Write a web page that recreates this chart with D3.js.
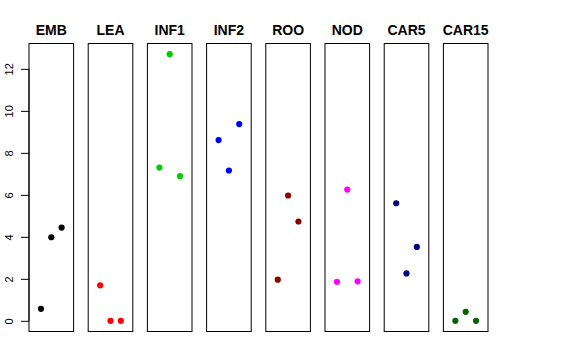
<!DOCTYPE html>
<html><head><meta charset="utf-8">
<script src="https://cdn.jsdelivr.net/npm/d3@7"></script>
<style>body{margin:0;background:#fff}</style>
</head><body>
<script>
const categories = ["EMB","LEA","INF1","INF2","ROO","NOD","CAR5","CAR15"];
const colors = ["#000000","#FF0000","#00CD00","#0000FF","#8B0000","#FF00FF","#000080","#006400"];
const values = [
  [0.57, 3.98, 4.44],
  [1.69, 0, 0],
  [7.30, 12.70, 6.89],
  [8.61, 7.16, 9.37],
  [1.96, 5.97, 4.73],
  [1.86, 6.25, 1.88],
  [5.60, 2.26, 3.52],
  [0, 0.43, 0]
];
const yTicks = [0, 2, 4, 6, 8, 10, 12];

(function(){
const W = 576, H = 360;
const svg = d3.select("body").append("svg").attr("width", W).attr("height", H);
const pTop = 43.5, pBottom = 331.5;
const panelW = 44.6, step = 59.2, x0 = 29;
const yMax = 12.7, pad = yMax * 0.04;
const y = d3.scaleLinear().domain([-pad, yMax + pad]).range([pBottom, pTop]);

categories.forEach((cat, i) => {
  const left = x0 + i * step;
  const x = d3.scaleLinear().domain([-0.16, 4.16]).range([left, left + panelW]);
  const g = svg.append("g");
  g.append("rect").attr("x", left).attr("y", pTop).attr("width", panelW).attr("height", pBottom - pTop)
    .attr("fill", "none").attr("stroke", "#000").attr("stroke-width", 1);
  g.append("text").attr("x", left + panelW / 2).attr("y", 35).attr("text-anchor", "middle")
    .attr("font-family", "Liberation Sans, Arial, sans-serif").attr("font-weight", "bold").attr("font-size", 14)
    .text(cat);
  g.selectAll("circle").data(values[i]).enter().append("circle")
    .attr("cx", (d, j) => x(j + 1)).attr("cy", d => y(d)).attr("r", 3.1).attr("fill", colors[i]);
});

const axis = d3.axisLeft(y).tickValues(yTicks).tickSize(8).tickPadding(5).tickFormat(d3.format("d"));
const ag = svg.append("g").attr("transform", `translate(${x0},0)`).call(axis);
ag.select(".domain").attr("d", `M0,${y(0)}V${y(12)}`).attr("stroke", "#000");
ag.selectAll(".tick line").attr("stroke", "#000");
ag.selectAll(".tick text").attr("font-family", "Liberation Sans, Arial, sans-serif").attr("font-size", 11)
  .attr("fill", "#000").attr("text-anchor", "middle").attr("dy", null)
  .attr("x", 0).attr("y", 0)
  .attr("dominant-baseline", "middle")
  .attr("transform", "translate(-19,0) rotate(-90)");
})();
</script>
</body></html>
